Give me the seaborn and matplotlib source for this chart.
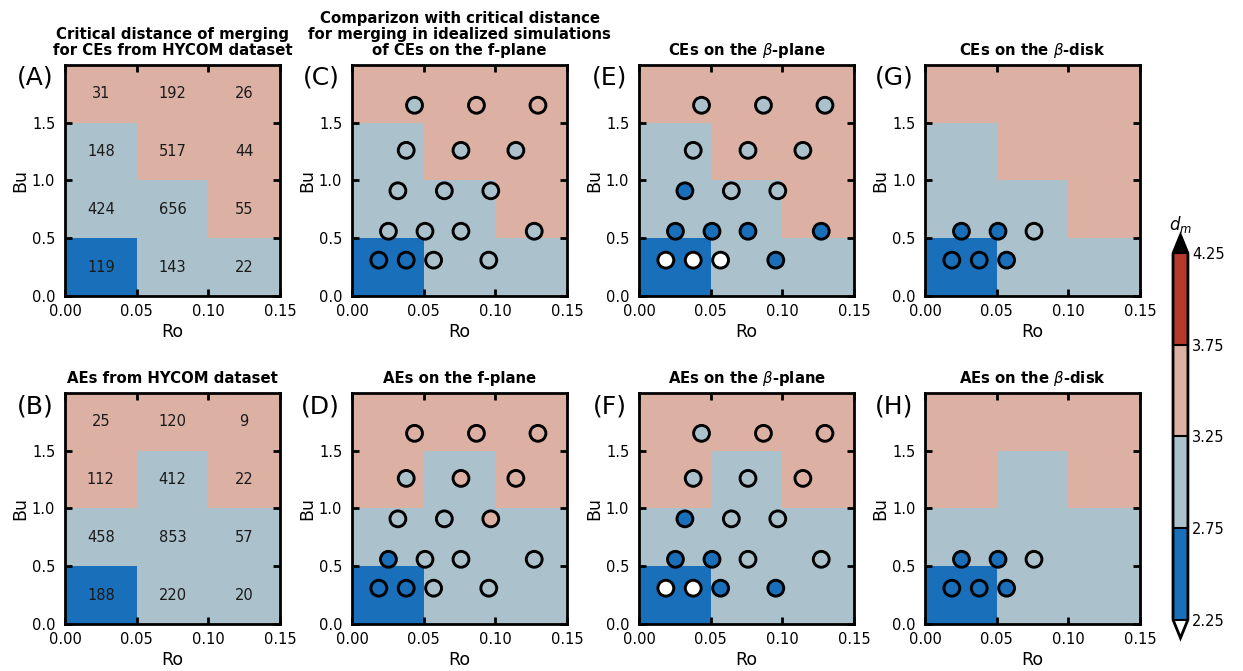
import numpy as np
import pandas as pd
import matplotlib
matplotlib.use("Agg")
import matplotlib.pyplot as plt
from matplotlib.colors import ListedColormap, BoundaryNorm
import seaborn as sns

sns.set_style("ticks")
plt.rcParams['font.family'] = ['DejaVu Sans']
plt.rcParams.update({
    "text.color": "black", "axes.labelcolor": "black",
    "xtick.color": "black", "ytick.color": "black",
    "axes.edgecolor": "black",
})

# ---------------- data ----------------
ro_edges = [0.0, 0.05, 0.10, 0.15]
bu_edges = [0.0, 0.5, 1.0, 1.5, 2.0]
ro_centers = [0.025, 0.075, 0.125]
bu_centers = [0.25, 0.75, 1.25, 1.75]

# critical distance d_m per cell (rows: Bu bins bottom->top, cols: Ro bins)
dm_ce_hycom = [[2.5, 3.0, 3.0],
               [3.0, 3.0, 3.5],
               [3.0, 3.5, 3.5],
               [3.5, 3.5, 3.5]]
dm_ae_hycom = [[2.5, 3.0, 3.0],
               [3.0, 3.0, 3.0],
               [3.5, 3.0, 3.5],
               [3.5, 3.5, 3.5]]

# number of eddy pairs per cell
n_ce_hycom = [[119, 143, 22],
              [424, 656, 55],
              [148, 517, 44],
              [31, 192, 26]]
n_ae_hycom = [[188, 220, 20],
              [458, 853, 57],
              [112, 412, 22],
              [25, 120, 9]]

# idealized simulation points
ro_sim = [0.0436, 0.0868, 0.1297,
          0.0378, 0.0760, 0.1143,
          0.0320, 0.0644, 0.0968,
          0.0254, 0.0509, 0.0760, 0.1271,
          0.0187, 0.0378, 0.0569, 0.0954]
bu_sim = [1.65, 1.65, 1.65,
          1.26, 1.26, 1.26,
          0.91, 0.91, 0.91,
          0.56, 0.56, 0.56, 0.56,
          0.31, 0.31, 0.31, 0.31]
ro_disk = [0.0254, 0.0509, 0.0760, 0.0187, 0.0378, 0.0569]
bu_disk = [0.56, 0.56, 0.56, 0.31, 0.31, 0.31]

dm_ce_fplane = [3.0, 3.5, 3.5, 3.0, 3.0, 3.0, 3.0, 3.0, 3.0,
                3.0, 3.0, 3.0, 3.0, 2.5, 2.5, 3.0, 3.0]
dm_ce_bplane = [3.0, 3.0, 3.0, 3.0, 3.0, 3.0, 2.5, 3.0, 3.0,
                2.5, 2.5, 2.5, 2.5, 2.0, 2.0, 2.0, 2.5]
dm_ce_bdisk = [2.5, 2.5, 3.0, 2.5, 2.5, 2.5]
dm_ae_fplane = [3.5, 3.5, 3.5, 3.0, 3.5, 3.5, 3.0, 3.0, 3.5,
                2.5, 3.0, 3.0, 3.0, 2.5, 2.5, 3.0, 3.0]
dm_ae_bplane = [3.0, 3.5, 3.5, 3.0, 3.0, 3.5, 2.5, 3.0, 3.0,
                2.5, 2.5, 3.0, 3.0, 2.0, 2.0, 2.5, 2.5]
dm_ae_bdisk = [2.5, 2.5, 3.0, 2.5, 2.5, 2.5]

cbar_bounds = [2.25, 2.75, 3.25, 3.75, 4.25]
level_colors = ["#1a6fba", "#abc2cc", "#dcb1a4", "#b43a2b"]

titles = {
    "A": "Critical distance of merging\nfor CEs from HYCOM dataset",
    "C": "Comparizon with critical distance\nfor merging in idealized simulations\nof CEs on the f-plane",
    "E": "CEs on the $\\beta$-plane",
    "G": "CEs on the $\\beta$-disk",
    "B": "AEs from HYCOM dataset",
    "D": "AEs on the f-plane",
    "F": "AEs on the $\\beta$-plane",
    "H": "AEs on the $\\beta$-disk",
}

# ---------------- style ----------------
cmap = ListedColormap(level_colors)
cmap.set_over("black")
cmap.set_under("white")
norm = BoundaryNorm(cbar_bounds, cmap.N)

fig = plt.figure(figsize=(12.43, 6.71), dpi=100)
lefts = [0.0523, 0.2832, 0.5141, 0.7442]
bottoms = [0.5589, 0.0700]
W, H = 0.173, 0.3445

panels = [
    ("A", 0, 0, dm_ce_hycom, n_ce_hycom, None, None, None),
    ("C", 0, 1, dm_ce_hycom, None, ro_sim, bu_sim, dm_ce_fplane),
    ("E", 0, 2, dm_ce_hycom, None, ro_sim, bu_sim, dm_ce_bplane),
    ("G", 0, 3, dm_ce_hycom, None, ro_disk, bu_disk, dm_ce_bdisk),
    ("B", 1, 0, dm_ae_hycom, n_ae_hycom, None, None, None),
    ("D", 1, 1, dm_ae_hycom, None, ro_sim, bu_sim, dm_ae_fplane),
    ("F", 1, 2, dm_ae_hycom, None, ro_sim, bu_sim, dm_ae_bplane),
    ("H", 1, 3, dm_ae_hycom, None, ro_disk, bu_disk, dm_ae_bdisk),
]

mesh = None
for key, r, c, grid, counts, rx, by, vals in panels:
    ax = fig.add_axes([lefts[c], bottoms[r], W, H])
    mesh = ax.pcolormesh(ro_edges, bu_edges, np.array(grid), cmap=cmap, norm=norm,
                         zorder=0)
    if counts is not None:
        for i, bc in enumerate(bu_centers):
            for j, rc in enumerate(ro_centers):
                ax.text(rc, bc, str(counts[i][j]), ha="center", va="center",
                        fontsize=10.5, color="#1a1a1a")
    if rx is not None:
        df = pd.DataFrame({"Ro": rx, "Bu": by, "dm": vals})
        pal = {v: cmap(norm(v)) for v in sorted(set(vals))}
        sns.scatterplot(data=df, x="Ro", y="Bu", hue="dm", palette=pal,
                        s=130, edgecolor="black", linewidth=2.1, legend=False,
                        ax=ax, zorder=3, clip_on=False)
    ax.set_xlim(0, 0.15)
    ax.set_ylim(0, 2.0)
    ax.set_xticks([0.0, 0.05, 0.10, 0.15])
    ax.set_xticklabels(["0.00", "0.05", "0.10", "0.15"])
    ax.set_yticks([0.0, 0.5, 1.0, 1.5])
    ax.set_yticklabels(["0.0", "0.5", "1.0", "1.5"])
    ax.tick_params(direction="in", top=True, right=True, length=5, width=2,
                   labelsize=10.5, color="black")
    ax.tick_params(axis="x", pad=6)
    ax.tick_params(axis="y", pad=7)
    ax.set_axisbelow(False)
    for sp in ax.spines.values():
        sp.set_linewidth(2)
        sp.set_color("black")
        sp.set_zorder(5)
    ax.set_xlabel("Ro", fontsize=12.5, labelpad=2.5)
    ax.set_ylabel("Bu", fontsize=12.5, labelpad=2)
    ax.set_title(titles[key], fontsize=10.7, fontweight="bold", pad=7, linespacing=1.1)
    ax.text(-0.055, 0.995, f"({key})", transform=ax.transAxes, ha="right", va="top",
            fontsize=18)

cax = fig.add_axes([0.9437, 0.0492, 0.012, 0.6006])
cb = fig.colorbar(mesh, cax=cax, extend="both", extendfrac=0.05,
                  ticks=cbar_bounds, drawedges=True)
cb.outline.set_linewidth(2)
cb.outline.set_edgecolor("black")
cb.dividers.set_linewidth(1.5)
cb.dividers.set_color("black")
cb.ax.tick_params(length=0, labelsize=10.5, pad=3)
cb.ax.set_yticklabels(["2.25", "2.75", "3.25", "3.75", "4.25"])
cb.ax.set_title("$d_m$", fontsize=12, pad=2)

fig.savefig("out.png", dpi=100)
